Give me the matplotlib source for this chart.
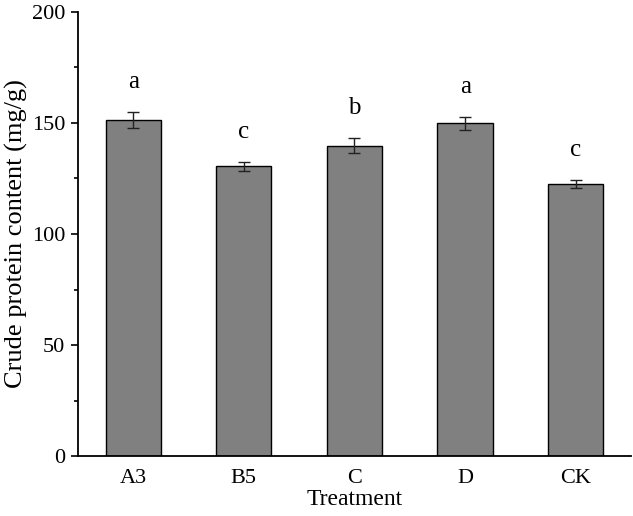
import matplotlib.pyplot as plt
from matplotlib.ticker import MultipleLocator

treatments = ['A3', 'B5', 'C', 'D', 'CK']
protein = [151.5, 130.5, 139.8, 149.8, 122.6]
errors = [3.6, 2.0, 3.4, 2.9, 1.8]
letters = ['a', 'c', 'b', 'a', 'c']

plt.rcParams['font.family'] = ['Liberation Serif', 'DejaVu Serif']
plt.rcParams['font.size'] = 16

fig = plt.figure(figsize=(6.33, 5.16), dpi=100)
ax = fig.add_axes([0.123, 0.116, 0.874, 0.861])

x = range(len(treatments))
ax.bar(x, protein, width=0.5, color='#808080', edgecolor='black', linewidth=1.0,
       yerr=errors, capsize=4, error_kw={'elinewidth': 1.0, 'capthick': 1.0, 'ecolor': '#222222'})

# significance letters above error bars
for i in x:
    ax.text(i, protein[i] + errors[i] + 8.5, letters[i], ha='center', va='bottom', fontsize=18)

ax.set_xlim(-0.5, 4.5)
ax.set_ylim(0, 200)
ax.set_xticks(list(x))
ax.set_xticklabels(treatments)
ax.yaxis.set_major_locator(MultipleLocator(50))
ax.yaxis.set_minor_locator(MultipleLocator(25))
ax.tick_params(axis='x', length=0, pad=9)
ax.tick_params(axis='y', which='major', direction='out', length=5, width=1.2, pad=4)
ax.tick_params(axis='y', which='minor', direction='out', length=3, width=1.2)

ax.spines['top'].set_visible(False)
ax.spines['right'].set_visible(False)
ax.spines['left'].set_linewidth(1.3)
ax.spines['bottom'].set_linewidth(1.3)

ax.set_xlabel('Treatment', fontsize=17, labelpad=1)
ax.set_ylabel('Crude protein content (mg/g)', fontsize=19, labelpad=3)

fig.savefig('out.png', dpi=100)
